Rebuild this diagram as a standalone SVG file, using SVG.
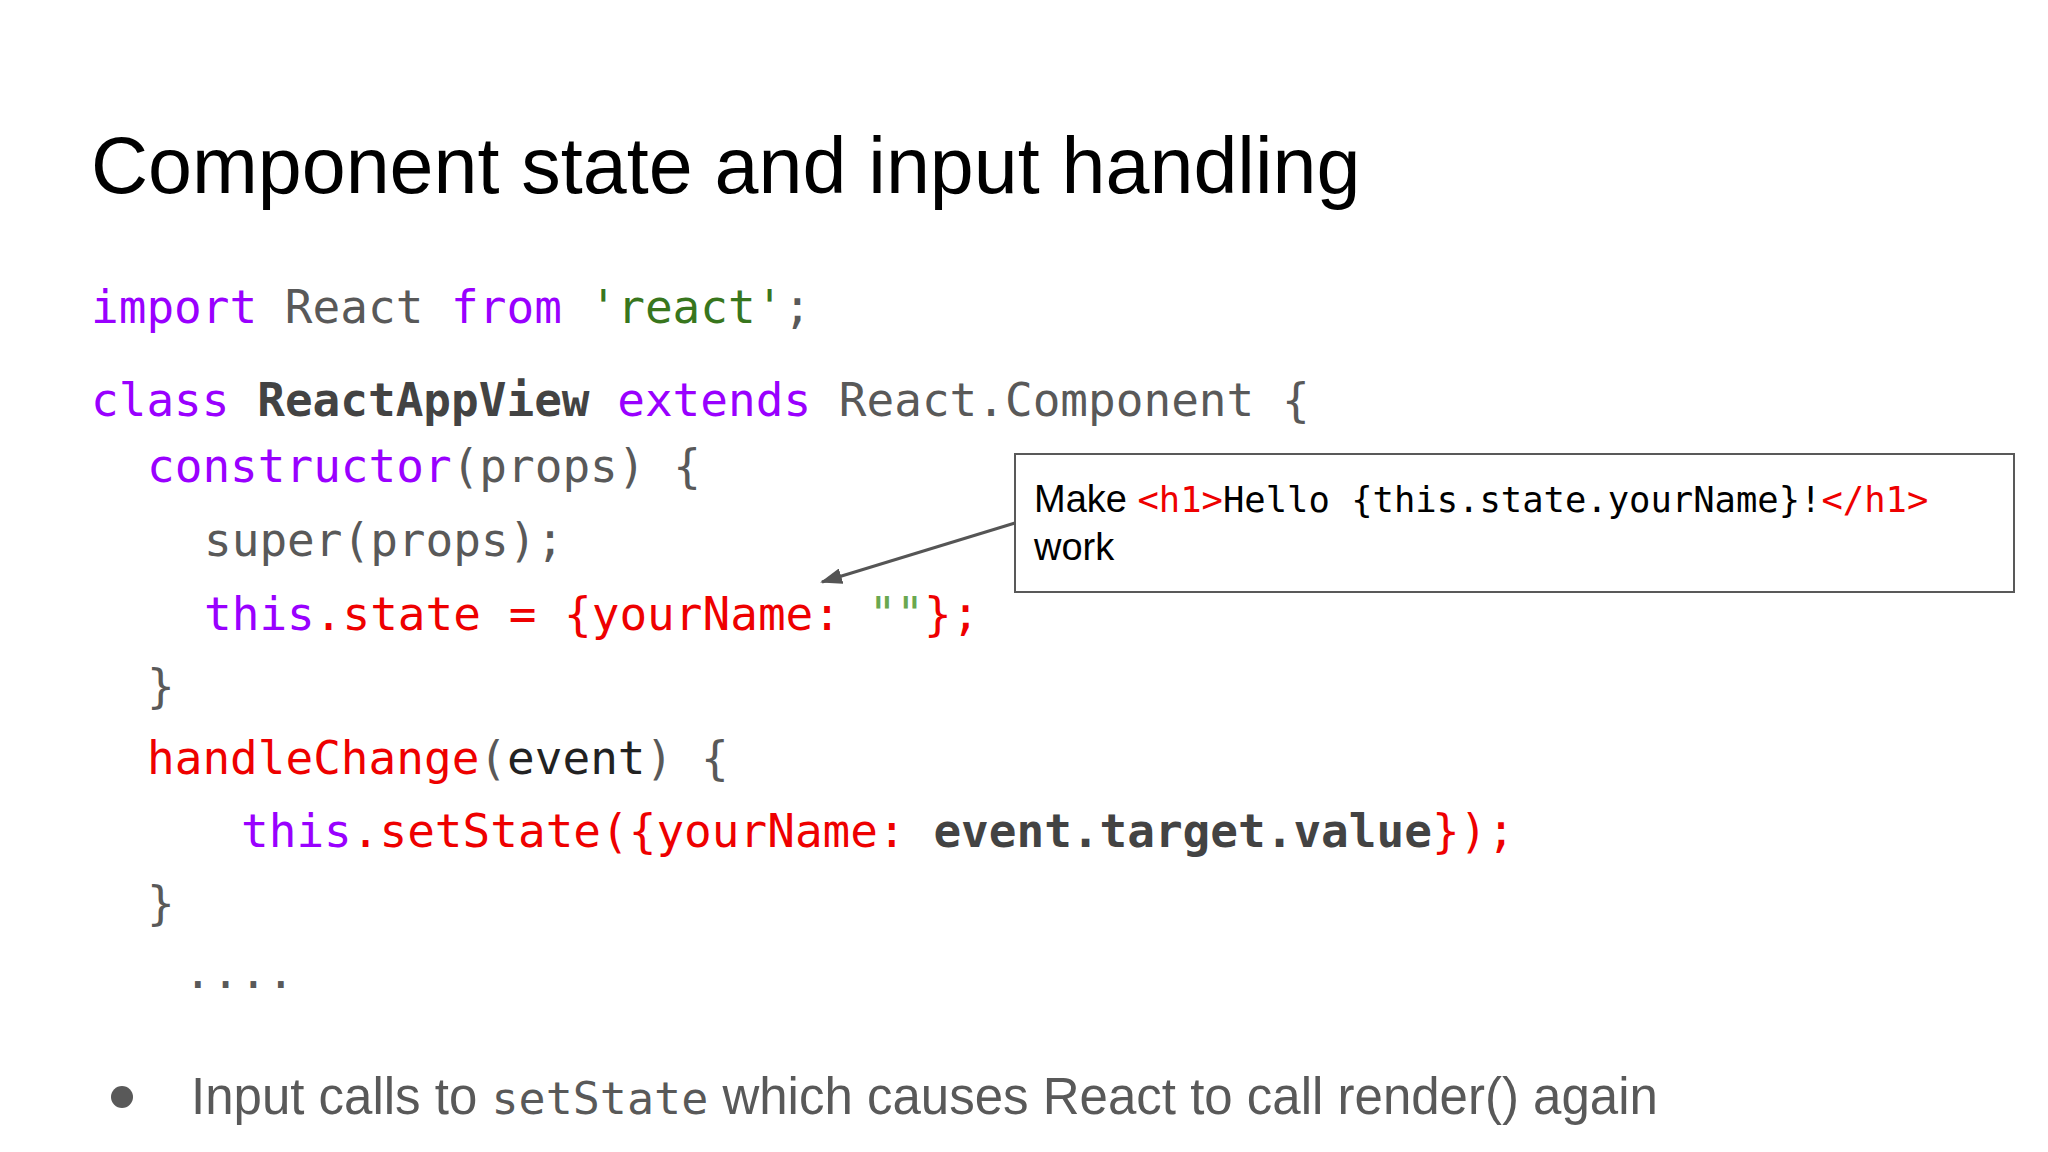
<svg xmlns="http://www.w3.org/2000/svg" width="2048" height="1152" viewBox="0 0 2048 1152">
<style>
.t{font-family:"Liberation Sans",Arial,sans-serif}
.c{font-family:"DejaVu Sans Mono","Liberation Mono",monospace;font-size:46px;fill:#595959;white-space:pre}
.m{font-family:"DejaVu Sans Mono","Liberation Mono",monospace;font-size:35.5px}
.k{fill:#9900ff}.r{fill:#ee0000}.g{fill:#38761d}.lg{fill:#6aa84f}.b{font-weight:bold;fill:#434343}
</style>
<defs><marker id="ah" markerWidth="22" markerHeight="16" refX="20" refY="8" orient="auto" markerUnits="userSpaceOnUse" viewBox="0 0 22 16"><path d="M0,0L22,8L0,16z" fill="#555"/></marker></defs>
<rect width="2048" height="1152" fill="#fff"/>
<g id="title"><text class="t" x="91" y="193" font-size="79" fill="#000">Component state and input handling</text></g>
<g id="code" xml:space="preserve">
<text class="c" x="91" y="323"><tspan class="k">import</tspan> React <tspan class="k">from</tspan> <tspan class="g">'react'</tspan>;</text>
<text class="c" x="91" y="416"><tspan class="k">class</tspan> <tspan class="b">ReactAppView</tspan> <tspan class="k">extends</tspan> React.Component {</text>
<text class="c" x="147" y="482"><tspan class="k">constructor</tspan>(props) {</text>
<text class="c" x="204" y="556">super(props);</text>
<text class="c" x="204" y="630"><tspan class="k">this</tspan><tspan class="r">.state = {yourName: </tspan><tspan class="lg">""</tspan><tspan class="r">};</tspan></text>
<text class="c" x="147" y="702">}</text>
<text class="c" x="147" y="774"><tspan class="r">handleChange</tspan>(<tspan fill="#222">event</tspan>) {</text>
<text class="c" x="241" y="847"><tspan class="k">this</tspan><tspan class="r">.setState({yourName: </tspan><tspan class="b">event.target.value</tspan><tspan class="r">});</tspan></text>
<text class="c" x="147" y="919">}</text>
<text class="c" x="184" y="988">....</text>
</g>
<g id="note">
<rect x="1015" y="454" width="999" height="138" fill="#fff" stroke="#595959" stroke-width="2"/>
<text class="t" x="1034" y="512" font-size="38" fill="#000">Make <tspan class="m" fill="#ee0000">&lt;h1&gt;</tspan><tspan class="m">Hello {this.state.yourName}!</tspan><tspan class="m" fill="#ee0000">&lt;/h1&gt;</tspan></text>
<text class="t" x="1034" y="560" font-size="38" fill="#000">work</text>
</g>
<g id="connectors"><line x1="1015" y1="523" x2="822" y2="582" stroke="#555" stroke-width="3" marker-end="url(#ah)"/></g>
<g id="bullet">
<circle cx="122" cy="1097" r="11" fill="#595959"/>
<text class="t" x="191" y="1114" font-size="51" fill="#595959">Input calls to <tspan font-family="DejaVu Sans Mono,monospace" font-size="45">setState</tspan> which causes React to call render() again</text>
</g>
</svg>
